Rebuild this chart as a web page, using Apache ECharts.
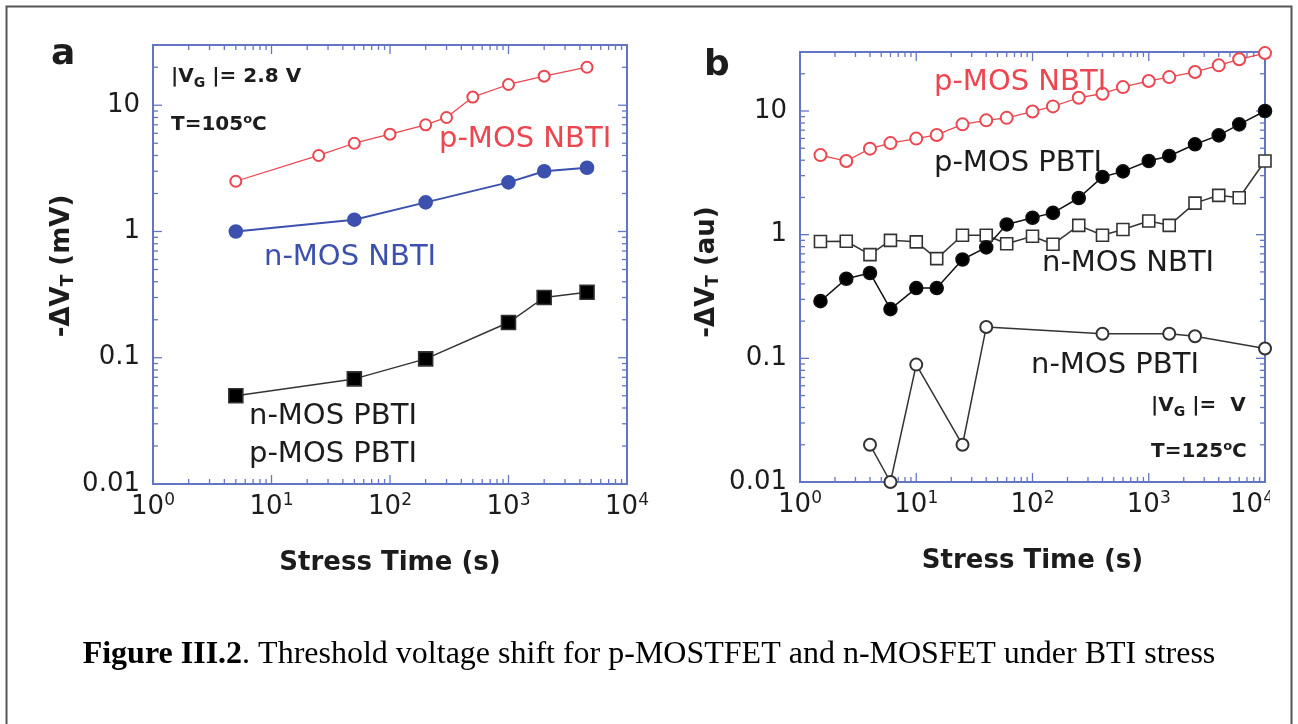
<!DOCTYPE html>
<html>
<head>
<meta charset="utf-8">
<script src="https://cdn.jsdelivr.net/npm/echarts@6/dist/echarts.min.js"></script>
<style>
  html, body { margin: 0; padding: 0; background: #fff; }
  #chart { width: 1298px; height: 724px; }
</style>
</head>
<body>
<div id="chart"></div>
<script>
// ---- Panel a: |VG| = 2.8 V, T = 105 C (threshold shift in mV) ----
const timeA_pNBTI = [5, 25, 50, 100, 200, 300, 500, 1000, 2000, 4600];
const valA_pNBTI  = [2.5, 4.0, 5.0, 5.9, 7.0, 8.0, 11.6, 14.6, 17.0, 20.0];
const timeA_nNBTI = [5, 50, 200, 1000, 2000, 4600];
const valA_nNBTI  = [1.0, 1.24, 1.7, 2.45, 3.0, 3.2];
const timeA_PBTI  = [5, 50, 200, 1000, 2000, 4600];
const valA_PBTI   = [0.05, 0.068, 0.098, 0.19, 0.30, 0.33];

// ---- Panel b: T = 125 C (threshold shift in arbitrary units) ----
const timeB = [1.5, 2.5, 4, 6, 10, 15, 25, 40, 60, 100, 150, 250, 400, 600, 1000, 1500, 2500, 4000, 6000, 10000];
const valB_pNBTI = [4.4, 3.94, 4.96, 5.5, 5.98, 6.4, 7.8, 8.4, 8.8, 9.9, 10.9, 12.8, 13.8, 15.6, 17.5, 18.8, 20.7, 23.4, 26.2, 29.4];
const valB_pPBTI = [0.29, 0.44, 0.49, 0.25, 0.37, 0.37, 0.63, 0.79, 1.21, 1.37, 1.5, 1.98, 2.93, 3.25, 3.94, 4.33, 5.38, 6.35, 7.8, 10.0];
const valB_nNBTI = [0.88, 0.885, 0.69, 0.9, 0.875, 0.64, 0.99, 0.99, 0.845, 0.97, 0.836, 1.19, 0.99, 1.10, 1.29, 1.19, 1.80, 2.08, 1.99, 3.94];
const timeB_nPBTI = [4, 6, 10, 25, 40, 400, 1500, 2500, 10000];
const valB_nPBTI  = [0.02, 0.01, 0.089, 0.02, 0.179, 0.158, 0.158, 0.151, 0.12];

// ---- Axis tick labels ----
const xTickExponents = [0, 1, 2, 3, 4];
const yTickLabels = ['0.01', '0.1', '1', '10'];
const xDecades = [1, 10, 100, 1000];
const yDecades = [0.01, 0.1, 1, 10];
const minorSteps = [1, 2, 3, 4, 5, 6, 7, 8, 9];

const AXIS = '#6476c3';
const RED = '#ec4650';
const BLUE = '#3c51ad';
const INK = '#1c1c1c';
const SANS = 'DejaVu Sans';
const SERIF = 'Liberation Serif';

const X_MIN = 1, X_MAX = 10000, Y_MIN = 0.01, Y_MAX = 30;

function zip(xs, ys) { return xs.map((x, i) => [x, ys[i]]); }

// tick positions along each log axis (decade multiples)
const xTickVals = [];
xDecades.forEach(d => minorSteps.forEach(m => xTickVals.push(+(d * m).toPrecision(6))));
xTickVals.push(X_MAX);
const yTickVals = [];
yDecades.forEach(d => minorSteps.forEach(m => {
  const v = +(d * m).toPrecision(6);
  if (v < Y_MAX) yTickVals.push(v);
}));

function isDecade(v) {
  const l = Math.log10(v);
  return Math.abs(l - Math.round(l)) < 1e-9;
}

// inward ticks on the bottom and top edges
function renderXTicks(params, api) {
  const v = api.value(0);
  const cs = params.coordSys;
  const px = api.coord([v, 1])[0];
  const len = isDecade(v) ? 9 : 5;
  const st = { stroke: AXIS, lineWidth: 1.3 };
  return {
    type: 'group',
    children: [
      { type: 'line', shape: { x1: px, y1: cs.y + cs.height, x2: px, y2: cs.y + cs.height - len }, style: st },
      { type: 'line', shape: { x1: px, y1: cs.y, x2: px, y2: cs.y + len }, style: st }
    ]
  };
}
// inward ticks on the left and right edges
function renderYTicks(params, api) {
  const v = api.value(1);
  const cs = params.coordSys;
  const py = api.coord([1, v])[1];
  const len = isDecade(v) ? 9 : 5;
  const st = { stroke: AXIS, lineWidth: 1.3 };
  return {
    type: 'group',
    children: [
      { type: 'line', shape: { x1: cs.x, y1: py, x2: cs.x + len, y2: py }, style: st },
      { type: 'line', shape: { x1: cs.x + cs.width, y1: py, x2: cs.x + cs.width - len, y2: py }, style: st }
    ]
  };
}

function xLabelFormatter(lastShift) {
  return function (v) {
    const l = Math.log10(v);
    const e = Math.round(l);
    if (Math.abs(l - e) > 1e-6 || xTickExponents.indexOf(e) < 0) return '';
    if (lastShift && e === 4) return '{b|10}{sl|' + e + '}';
    return '{b|10}{s|' + e + '}';
  };
}
function yLabelFormatter(v) {
  const s = String(+(+v).toPrecision(6));
  return yTickLabels.indexOf(s) >= 0 ? s : '';
}

const xLabelRich = {
  b: { fontSize: 26, fontFamily: SANS, color: INK },
  s: { fontSize: 17, fontFamily: SANS, color: INK, padding: [0, 0, 14, 0] },
  sl: { fontSize: 17, fontFamily: SANS, color: INK, padding: [0, 26, 14, 0] }
};

function makeXAxis(gridIndex, lastShift) {
  return {
    type: 'log', logBase: 10, gridIndex: gridIndex, min: X_MIN, max: X_MAX,
    axisLine: { show: false }, axisTick: { show: false }, splitLine: { show: false },
    axisLabel: { margin: 8, formatter: xLabelFormatter(lastShift), rich: xLabelRich, showMaxLabel: true, hideOverlap: false },
    name: 'Stress Time (s)', nameLocation: 'middle', nameGap: 66,
    nameTextStyle: { fontSize: 26, fontWeight: 'bold', fontFamily: SANS, color: INK }
  };
}
function makeYAxis(gridIndex) {
  return {
    type: 'log', logBase: 10, gridIndex: gridIndex, min: Y_MIN, max: Y_MAX,
    axisLine: { show: false }, axisTick: { show: false }, splitLine: { show: false },
    axisLabel: { margin: 13, formatter: yLabelFormatter, fontSize: 26, fontFamily: SANS, color: INK, hideOverlap: false }
  };
}

// fill: marker face colour ('none' keeps the hollow symbol face)
function lineSeries(xi, data, color, symbol, size, lineWidth, fill) {
  const itemStyle = symbol === 'emptyCircle'
    ? { color: color, borderWidth: 1.6 }
    : { color: fill, borderColor: color, borderWidth: 1.6 };
  return {
    type: 'line', xAxisIndex: xi, yAxisIndex: xi, data: data,
    symbol: symbol, symbolSize: size, showAllSymbol: true, clip: false, silent: true,
    lineStyle: { color: color, width: lineWidth },
    itemStyle: itemStyle,
    z: 3
  };
}

function tickSeries(xi) {
  return [
    { type: 'custom', xAxisIndex: xi, yAxisIndex: xi, silent: true, clip: false, z: 1,
      data: xTickVals.map(v => [v, 1]), renderItem: renderXTicks },
    { type: 'custom', xAxisIndex: xi, yAxisIndex: xi, silent: true, clip: false, z: 1,
      data: yTickVals.map(v => [1, v]), renderItem: renderYTicks }
  ];
}

function note(text, x, y, opts) {
  opts = opts || {};
  return {
    type: 'text', x: x, y: y, z: 10, rotation: opts.rotation || 0,
    style: {
      text: text, fill: opts.color || INK,
      fontSize: opts.size || 29, fontWeight: opts.weight || 'normal', fontFamily: opts.family || SANS,
      align: opts.align || 'left', verticalAlign: 'middle',
      rich: opts.rich || {}
    }
  };
}
const subRich = (size) => ({ sub: { fontSize: size, fontWeight: 'bold', fontFamily: SANS, padding: [13, 0, 0, 0], fill: INK } });
const supRich = (size) => ({ sup: { fontSize: size, fontWeight: 'bold', fontFamily: SANS, padding: [0, 0, 11, 0], fill: INK } });

const option = {
  animation: false,
  backgroundColor: '#fff',
  grid: [
    { left: 153, top: 45, width: 474, height: 439, show: true, borderColor: AXIS, borderWidth: 2, backgroundColor: 'transparent', outerBoundsMode: 'none' },
    { left: 800, top: 52, width: 465, height: 430, show: true, borderColor: AXIS, borderWidth: 2, backgroundColor: 'transparent', outerBoundsMode: 'none' }
  ],
  xAxis: [makeXAxis(0, false), makeXAxis(1, true)],
  yAxis: [makeYAxis(0), makeYAxis(1)],
  series: [
    ...tickSeries(0),
    ...tickSeries(1),
    lineSeries(0, zip(timeA_pNBTI, valA_pNBTI), RED, 'emptyCircle', 11, 1.3, 'none'),
    lineSeries(0, zip(timeA_nNBTI, valA_nNBTI), BLUE, 'circle', 13, 2, BLUE),
    lineSeries(0, zip(timeA_PBTI, valA_PBTI), '#333', 'rect', 14, 1.5, '#000'),
    lineSeries(1, zip(timeB, valB_pNBTI), RED, 'emptyCircle', 12, 1.3, 'none'),
    lineSeries(1, zip(timeB, valB_nNBTI), '#333', 'rect', 12, 1.5, '#fff'),
    lineSeries(1, zip(timeB_nPBTI, valB_nPBTI), '#333', 'emptyCircle', 12, 1.5, 'none'),
    lineSeries(1, zip(timeB, valB_pPBTI), '#111', 'circle', 13, 1.5, '#000')
  ],
  graphic: [
    // outer figure frame
    { type: 'rect', z: 0, shape: { x: 6.5, y: 6.5, width: 1285, height: 760 },
      style: { fill: 'none', stroke: '#555', lineWidth: 2 } },
    // panel letters
    note('a', 51, 55, { size: 36, weight: 'bold' }),
    note('b', 704, 66, { size: 36, weight: 'bold' }),
    // y-axis titles
    note('-ΔV{sub|T} (mV)', 62, 266, { size: 26, weight: 'bold', align: 'center', rotation: Math.PI / 2, rich: subRich(17) }),
    note('-ΔV{sub|T} (au)', 707, 272, { size: 26, weight: 'bold', align: 'center', rotation: Math.PI / 2, rich: subRich(17) }),
    // panel a annotations
    note('|V{sub|G} |= 2.8 V', 171, 77, { size: 20, weight: 'bold', rich: subRich(14) }),
    note('T=105{sup|o}C', 171, 125, { size: 20, weight: 'bold', rich: supRich(13) }),
    note('p-MOS NBTI', 439, 139, { color: RED }),
    note('n-MOS NBTI', 264, 257, { color: BLUE }),
    note('n-MOS PBTI', 249, 416),
    note('p-MOS PBTI', 249, 454),
    // panel b annotations
    note('p-MOS NBTI', 934, 82, { color: RED }),
    note('p-MOS PBTI', 934, 163),
    note('n-MOS NBTI', 1042, 263),
    note('n-MOS PBTI', 1031, 365),
    note('|V{sub|G} |=  V', 1151, 406, { size: 20, weight: 'bold', rich: subRich(14) }),
    note('T=125{sup|o}C', 1151, 452, { size: 20, weight: 'bold', rich: supRich(13) }),
    // figure edge trims the last tick label of panel b
    { type: 'rect', z: 20, shape: { x: 1270, y: 487, width: 20, height: 40 }, style: { fill: '#fff' } },
    // caption
    { type: 'text', x: 649, y: 655, z: 10,
      style: {
        text: '{b|Figure III.2}. Threshold voltage shift for p-MOSTFET and n-MOSFET under BTI stress',
        fontSize: 32, fontFamily: SERIF, fill: '#000', align: 'center', verticalAlign: 'middle',
        rich: { b: { fontSize: 32, fontFamily: SERIF, fontWeight: 'bold', fill: '#000' } }
      } }
  ]
};

const chart = echarts.init(document.getElementById('chart'), null, { renderer: 'canvas' });
chart.setOption(option);
</script>
</body>
</html>
